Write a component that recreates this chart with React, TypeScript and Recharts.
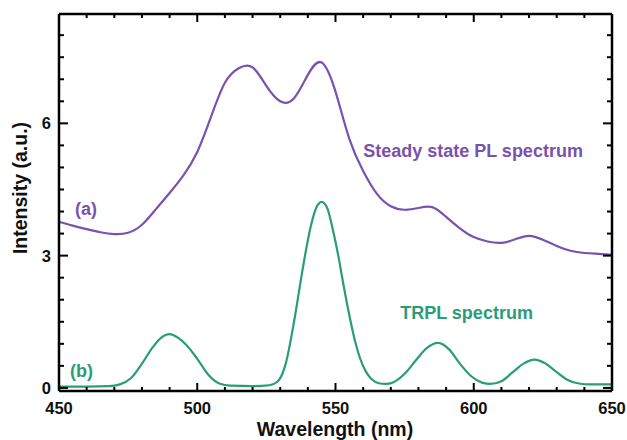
import React from "react"
import { LineChart, Line, XAxis, YAxis, ReferenceDot } from "recharts"

// (a) steady state PL, sampled every 5 nm
const plWavelengths = [
  450, 455, 460, 465, 470, 475, 480, 485, 490, 495, 500, 505, 510, 515, 520, 525, 530, 535, 540, 545, 550,
  555, 560, 565, 570, 575, 580, 585, 590, 595, 600, 605, 610, 615, 620, 625, 630, 635, 640, 645, 650,
]
const steadyPL = [
  3.77, 3.68, 3.6, 3.53, 3.49, 3.52, 3.7, 4.05, 4.42, 4.82, 5.35, 6.15, 6.92, 7.25, 7.27, 6.85, 6.5, 6.57, 7.1,
  7.38, 6.72, 5.65, 4.92, 4.4, 4.12, 4.04, 4.08, 4.1, 3.88, 3.62, 3.42, 3.32, 3.29, 3.37, 3.45, 3.36, 3.22, 3.11,
  3.06, 3.04, 3.02,
]

// (b) TRPL, denser around the peaks
const trplWavelengths = [
  450, 460, 468, 472, 476, 480, 484, 487, 490, 493, 496, 500, 504, 508, 512, 520, 526, 529, 532, 535, 538, 541,
  543, 545, 547, 549, 551, 553, 555, 557, 559, 561, 563, 566, 568, 571, 575, 579, 583, 587, 591, 595, 599, 603,
  606, 610, 614, 618, 622, 626, 630, 634, 638, 642, 650,
]
const trpl = [
  0.03, 0.03, 0.04, 0.08, 0.22, 0.55, 0.93, 1.14, 1.22, 1.14, 0.98, 0.66, 0.3, 0.1, 0.05, 0.04, 0.06, 0.14, 0.55,
  1.5, 2.65, 3.65, 4.08, 4.22, 4.08, 3.6, 3.0, 2.3, 1.65, 1.08, 0.65, 0.37, 0.2, 0.1, 0.09, 0.13, 0.32, 0.62, 0.9,
  1.02, 0.88, 0.55, 0.27, 0.12, 0.09, 0.15, 0.35, 0.55, 0.64, 0.55, 0.36, 0.18, 0.1, 0.08, 0.08,
]

const xTicks = [450, 460, 470, 480, 490, 500, 510, 520, 530, 540, 550, 560, 570, 580, 590, 600, 610, 620, 630, 640, 650]
const yTicks = [0, 0.5, 1, 1.5, 2, 2.5, 3, 3.5, 4, 4.5, 5, 5.5, 6, 6.5, 7, 7.5, 8]

const plData = plWavelengths.map((wl, i) => ({ wl, value: steadyPL[i] }))
const trplData = trplWavelengths.map((wl, i) => ({ wl, value: trpl[i] }))

const PURPLE = "#7a52ad"
const GREEN = "#2a9c78"
const FONT = "'Liberation Sans', Arial, sans-serif"
const Y_DOMAIN: [number, number] = [-0.07, 8.48]

const isMajorX = (v: number) => v % 50 === 0
const isMajorY = (v: number) => v % 3 === 0

function BottomTick(props: any) {
  const { x, y, payload } = props
  const major = isMajorX(payload.value)
  return (
    <g>
      <line x1={x} y1={y} x2={x} y2={y - (major ? 8 : 4)} stroke="#000" strokeWidth={2} />
      {major && (
        <text x={x} y={y + 23} textAnchor="middle" fontSize={16.5} fontWeight="bold" fontFamily={FONT} fill="#111">
          {payload.value}
        </text>
      )}
    </g>
  )
}

function TopTick(props: any) {
  const { x, y, payload } = props
  const major = isMajorX(payload.value)
  return <line x1={x} y1={y} x2={x} y2={y + (major ? 8 : 4)} stroke="#000" strokeWidth={2} />
}

function LeftTick(props: any) {
  const { x, y, payload } = props
  const major = isMajorY(payload.value)
  return (
    <g>
      <line x1={x} y1={y} x2={x + (major ? 9 : 5)} y2={y} stroke="#000" strokeWidth={2} />
      {major && (
        <text x={x - 8} y={y + 6} textAnchor="end" fontSize={16.5} fontWeight="bold" fontFamily={FONT} fill="#111">
          {payload.value}
        </text>
      )}
    </g>
  )
}

function RightTick(props: any) {
  const { x, y, payload } = props
  const major = isMajorY(payload.value)
  return <line x1={x} y1={y} x2={x - (major ? 9 : 5)} y2={y} stroke="#000" strokeWidth={2} />
}

function note(text: string, color: string) {
  return (props: any) => {
    const vb = props.viewBox
    return (
      <text x={vb.x} y={vb.y} fontSize={18} fontWeight="bold" fontFamily={FONT} fill={color}>
        {text}
      </text>
    )
  }
}

export default function App() {
  return (
    <div style={{ position: "absolute", left: 0, top: 0, background: "#fff" }}>
      <LineChart width={627} height={440} margin={{ top: 13, right: 14, bottom: 0, left: 0 }}>
        <XAxis
          dataKey="wl"
          type="number"
          domain={[450, 650]}
          ticks={xTicks}
          interval={0}
          height={49}
          tickSize={0}
          tickMargin={0}
          tickLine={false}
          axisLine={{ stroke: "#000", strokeWidth: 2.5 }}
          tick={(p: any) => <BottomTick {...p} />}
          label={() => (
            <text x={335} y={436} textAnchor="middle" fontSize={19.5} fontWeight="bold" fontFamily={FONT} fill="#111">
              Wavelength (nm)
            </text>
          )}
        />
        <XAxis
          xAxisId="top"
          dataKey="wl"
          orientation="top"
          type="number"
          domain={[450, 650]}
          ticks={xTicks}
          interval={0}
          height={1}
          tickSize={0}
          tickMargin={0}
          tickLine={false}
          axisLine={{ stroke: "#000", strokeWidth: 2.5 }}
          tick={(p: any) => <TopTick {...p} />}
        />
        <YAxis
          type="number"
          domain={Y_DOMAIN}
          ticks={yTicks}
          interval={0}
          width={59}
          tickSize={0}
          tickMargin={0}
          tickLine={false}
          allowDataOverflow
          axisLine={{ stroke: "#000", strokeWidth: 2.5 }}
          tick={(p: any) => <LeftTick {...p} />}
          label={() => (
            <text
              x={20}
              y={188}
              transform="rotate(-90, 20, 188)"
              textAnchor="middle"
              dominantBaseline="central"
              fontSize={19.5}
              fontWeight="bold"
              fontFamily={FONT}
              fill="#111"
            >
              Intensity (a.u.)
            </text>
          )}
        />
        <YAxis
          yAxisId="right"
          orientation="right"
          type="number"
          domain={Y_DOMAIN}
          ticks={yTicks}
          interval={0}
          width={1}
          tickSize={0}
          tickMargin={0}
          tickLine={false}
          allowDataOverflow
          axisLine={{ stroke: "#000", strokeWidth: 2.5 }}
          tick={(p: any) => <RightTick {...p} />}
        />
        <Line
          data={plData}
          type="natural"
          dataKey="value"
          stroke={PURPLE}
          strokeWidth={2.2}
          dot={false}
          isAnimationActive={false}
        />
        {/* same scales as the main axes; bound to the frame axes so they get drawn */}
        <Line
          data={trplData}
          xAxisId="top"
          yAxisId="right"
          type="monotone"
          dataKey="value"
          stroke={GREEN}
          strokeWidth={2.2}
          dot={false}
          isAnimationActive={false}
        />
        <ReferenceDot x={455.8} y={3.93} r={0} fill="none" stroke="none" label={note("(a)", PURPLE)} />
        <ReferenceDot x={560} y={5.24} r={0} fill="none" stroke="none" label={note("Steady state PL spectrum", PURPLE)} />
        <ReferenceDot x={573.4} y={1.57} r={0} fill="none" stroke="none" label={note("TRPL spectrum", GREEN)} />
        <ReferenceDot x={454} y={0.25} r={0} fill="none" stroke="none" label={note("(b)", GREEN)} />
      </LineChart>
    </div>
  )
}
